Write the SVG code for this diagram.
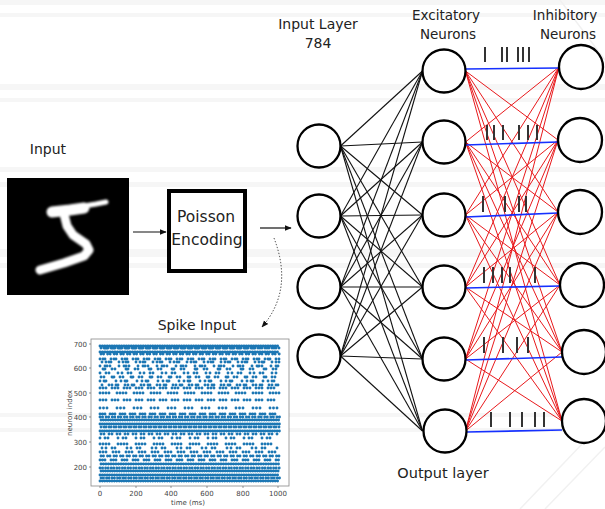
<svg xmlns="http://www.w3.org/2000/svg" width="605" height="509" viewBox="0 0 605 509">
<defs>
<style>
.t{font-family:"DejaVu Sans","Liberation Sans",sans-serif;fill:#222}
.n{fill:#fff;stroke:#000;stroke-width:2.3}
.bk{stroke:#111;stroke-width:1.1}
.rd{stroke:#e8191c;stroke-width:1}
.bl{stroke:#1530ff;stroke-width:1.6}
.sp{stroke:#333;stroke-width:2}
.bg{fill:#f6f6f6}
.r{stroke:#1f77b4;stroke-width:2.9;stroke-linecap:round;fill:none}
.ax{font-family:"DejaVu Sans","Liberation Sans",sans-serif;font-size:7px;fill:#444}
</style>
<marker id="ah" viewBox="0 0 10 10" refX="9" refY="5" markerWidth="7" markerHeight="7" orient="auto" markerUnits="userSpaceOnUse">
<path d="M0,1 L10,5 L0,9 z" fill="#111"/>
</marker>
<filter id="blur"><feGaussianBlur stdDeviation="1"/></filter>
<filter id="soft"><feGaussianBlur stdDeviation="0.4"/></filter>
</defs>
<rect width="605" height="509" fill="#fff"/>
<g id="background">
<rect class="bg" x="0" y="0" width="605" height="5"/>
<rect class="bg" x="0" y="13" width="605" height="4"/>
<rect class="bg" x="0" y="84" width="605" height="6"/>
<rect class="bg" x="0" y="98" width="605" height="4"/>
<rect class="bg" x="0" y="167" width="605" height="5"/>
<rect class="bg" x="0" y="182" width="605" height="5"/>
<rect class="bg" x="0" y="249" width="605" height="8"/>
<rect class="bg" x="0" y="263" width="605" height="5"/>
<rect class="bg" x="0" y="413" width="605" height="4"/>
<rect class="bg" x="0" y="428" width="605" height="4"/>
<line x1="520" y1="509" x2="605" y2="420" stroke="#f1f1f1" stroke-width="1.5"/>
<line x1="545" y1="509" x2="605" y2="447" stroke="#f1f1f1" stroke-width="1.5"/>
<line x1="560" y1="0" x2="605" y2="60" stroke="#f1f1f1" stroke-width="1.5"/>
</g>
<g id="labels">
<text class="t" x="318" y="29" font-size="14" text-anchor="middle">Input Layer</text>
<text class="t" x="318" y="48" font-size="14" text-anchor="middle">784</text>
<text class="t" x="446" y="20" font-size="13.5" text-anchor="middle">Excitatory</text>
<text class="t" x="448" y="39" font-size="13.5" text-anchor="middle">Neurons</text>
<text class="t" x="565" y="20" font-size="13.5" text-anchor="middle">Inhibitory</text>
<text class="t" x="568" y="39" font-size="13.5" text-anchor="middle">Neurons</text>
<text class="t" x="48" y="154" font-size="14" text-anchor="middle">Input</text>
<text class="t" x="197" y="330" font-size="14" text-anchor="middle">Spike Input</text>
<text class="t" x="443" y="478" font-size="14.5" text-anchor="middle">Output layer</text>
</g>
<g id="input-image">
<rect x="7" y="178" width="122" height="117" fill="#000"/>
<g fill="none" stroke="#fff" stroke-linecap="round" stroke-linejoin="round" filter="url(#blur)">
<path d="M52,212 L70,210 L84,208" stroke-width="11"/>
<path d="M84,206 L96,204 L106,202" stroke-width="5"/>
<path d="M64,214 L67,226 L73,235 L86,244 L89,250 L84,256 L64,263 L40,270" stroke-width="9"/>
</g>
</g>
<g id="poisson">
<rect x="169" y="191" width="76" height="80" fill="#fff" stroke="#000" stroke-width="4"/>
<text class="t" x="206" y="222" font-size="15.5" text-anchor="middle">Poisson</text>
<text class="t" x="207" y="245" font-size="15.5" text-anchor="middle">Encoding</text>
</g>
<g id="spike-plot">
<rect x="91" y="339" width="198" height="147" fill="#fff" stroke="#888" stroke-width="0.8"/>
<g class="r" filter="url(#soft)">
<line x1="100" y1="346" x2="280" y2="346" stroke-dasharray="0 2.4"/>
<line x1="101" y1="348" x2="280" y2="348" stroke-dasharray="0 3 0 2 0 2"/>
<line x1="100" y1="352" x2="280" y2="352" stroke-dasharray="0 2.5"/>
<line x1="101" y1="354" x2="280" y2="354" stroke-dasharray="0 2.6 0 4"/>
<line x1="100" y1="359" x2="280" y2="359" stroke-dasharray="0 3 0 2 0 6"/>
<line x1="102" y1="362" x2="280" y2="362" stroke-dasharray="0 4 0 3 0 2 0 8"/>
<line x1="100" y1="366" x2="280" y2="366" stroke-dasharray="0 5 0 2 0 3 0 9"/>
<line x1="103" y1="369" x2="280" y2="369" stroke-dasharray="0 2 0 7 0 3 0 11"/>
<line x1="100" y1="373" x2="280" y2="373" stroke-dasharray="0 6 0 3 0 9 0 4"/>
<line x1="101" y1="377" x2="280" y2="377" stroke-dasharray="0 3 0 8 0 2 0 6"/>
<line x1="100" y1="381" x2="280" y2="381" stroke-dasharray="0 4 0 2 0 10 0 5"/>
<line x1="102" y1="385" x2="280" y2="385" stroke-dasharray="0 7 0 3 0 4 0 2"/>
<line x1="100" y1="388" x2="280" y2="388" stroke-dasharray="0 3 0 3 0 6"/>
<line x1="100" y1="393" x2="280" y2="393" stroke-dasharray="0 3 0 3 0 3 0 8"/>
<line x1="100" y1="400" x2="280" y2="400" stroke-dasharray="0 3 0 3 0 6"/>
<line x1="100" y1="408" x2="280" y2="408" stroke-dasharray="0 3.5 0 3.5 0 10"/>
<line x1="100" y1="414" x2="280" y2="414" stroke-dasharray="0 2.5 0 2.5 0 5"/>
<line x1="100" y1="417" x2="280" y2="417" stroke-dasharray="0 2.6 0 3.5"/>
<line x1="101" y1="420" x2="280" y2="420" stroke-dasharray="0 2.4"/>
<line x1="100" y1="424" x2="280" y2="424" stroke-dasharray="0 2.3"/>
<line x1="101" y1="427" x2="280" y2="427" stroke-dasharray="0 3 0 2"/>
<line x1="100" y1="431" x2="280" y2="431" stroke-dasharray="0 2.3"/>
<line x1="101" y1="434" x2="280" y2="434" stroke-dasharray="0 3 0 5"/>
<line x1="100" y1="438" x2="280" y2="438" stroke-dasharray="0 5 0 3 0 10"/>
<line x1="100" y1="444" x2="280" y2="444" stroke-dasharray="0 3 0 3 0 3 0 9"/>
<line x1="102" y1="448" x2="280" y2="448" stroke-dasharray="0 4 0 6 0 3 0 12"/>
<line x1="100" y1="452" x2="280" y2="452" stroke-dasharray="0 3 0 3 0 7"/>
<line x1="101" y1="456" x2="280" y2="456" stroke-dasharray="0 2.5 0 4"/>
<line x1="100" y1="460" x2="280" y2="460" stroke-dasharray="0 2.5 0 2.5 0 6"/>
<line x1="101" y1="464" x2="280" y2="464" stroke-dasharray="0 2.5"/>
<line x1="100" y1="468" x2="280" y2="468" stroke-dasharray="0 2.6 0 3"/>
<line x1="101" y1="471" x2="280" y2="471" stroke-dasharray="0 2.3"/>
<line x1="100" y1="475" x2="280" y2="475" stroke-dasharray="0 2.4"/>
<line x1="101" y1="478" x2="280" y2="478" stroke-dasharray="0 2.5 0 3"/>
<line x1="100" y1="481" x2="280" y2="481" stroke-dasharray="0 2.4"/>
</g>
<g stroke="#555" stroke-width="0.6">
<line x1="89" y1="344" x2="91" y2="344"/><line x1="89" y1="368" x2="91" y2="368"/>
<line x1="89" y1="393" x2="91" y2="393"/><line x1="89" y1="417" x2="91" y2="417"/>
<line x1="89" y1="442" x2="91" y2="442"/><line x1="89" y1="467" x2="91" y2="467"/>
<line x1="100" y1="486" x2="100" y2="488"/><line x1="136" y1="486" x2="136" y2="488"/>
<line x1="171" y1="486" x2="171" y2="488"/><line x1="207" y1="486" x2="207" y2="488"/>
<line x1="243" y1="486" x2="243" y2="488"/><line x1="278" y1="486" x2="278" y2="488"/>
</g>
<g class="ax" text-anchor="end">
<text x="87" y="346.5">700</text><text x="87" y="370.5">600</text>
<text x="87" y="395.5">500</text><text x="87" y="419.5">400</text>
<text x="87" y="444.5">300</text><text x="87" y="469.5">200</text>
</g>
<g class="ax" text-anchor="middle">
<text x="100" y="496">0</text><text x="136" y="496">200</text>
<text x="171" y="496">400</text><text x="207" y="496">600</text>
<text x="243" y="496">800</text><text x="278" y="496">1000</text>
<text x="188" y="505">time (ms)</text>
<text x="72" y="413" transform="rotate(-90 72 413)">neuron index</text>
</g>
</g>
<g id="connectors">
<line x1="133" y1="232" x2="166" y2="232" stroke="#111" stroke-width="1.2" marker-end="url(#ah)"/>
<line x1="260" y1="228" x2="291" y2="228" stroke="#111" stroke-width="1.2" marker-end="url(#ah)"/>
<path d="M274,238 Q294,290 262,327" fill="none" stroke="#333" stroke-width="1" stroke-dasharray="1.3 1.8" marker-end="url(#ah)"/>
<g class="bk">
<line x1="340.5" y1="146" x2="422.5" y2="71"/><line x1="340.5" y1="146" x2="422.5" y2="142"/><line x1="340.5" y1="146" x2="422.5" y2="215"/><line x1="340.5" y1="146" x2="422.5" y2="287"/><line x1="340.5" y1="146" x2="422.5" y2="359"/><line x1="340.5" y1="146" x2="422.5" y2="431"/>
<line x1="340.5" y1="216" x2="422.5" y2="71"/><line x1="340.5" y1="216" x2="422.5" y2="142"/><line x1="340.5" y1="216" x2="422.5" y2="215"/><line x1="340.5" y1="216" x2="422.5" y2="287"/><line x1="340.5" y1="216" x2="422.5" y2="359"/><line x1="340.5" y1="216" x2="422.5" y2="431"/>
<line x1="340.5" y1="287" x2="422.5" y2="71"/><line x1="340.5" y1="287" x2="422.5" y2="142"/><line x1="340.5" y1="287" x2="422.5" y2="215"/><line x1="340.5" y1="287" x2="422.5" y2="287"/><line x1="340.5" y1="287" x2="422.5" y2="359"/><line x1="340.5" y1="287" x2="422.5" y2="431"/>
<line x1="340.5" y1="356" x2="422.5" y2="71"/><line x1="340.5" y1="356" x2="422.5" y2="142"/><line x1="340.5" y1="356" x2="422.5" y2="215"/><line x1="340.5" y1="356" x2="422.5" y2="287"/><line x1="340.5" y1="356" x2="422.5" y2="359"/><line x1="340.5" y1="356" x2="422.5" y2="431"/>
</g>
<g class="rd">
<line x1="465.5" y1="71" x2="558" y2="140"/><line x1="465.5" y1="71" x2="558" y2="212"/><line x1="465.5" y1="71" x2="560" y2="285"/><line x1="465.5" y1="71" x2="562" y2="352"/><line x1="465.5" y1="71" x2="562" y2="421"/>
<line x1="465.5" y1="142" x2="559" y2="67"/><line x1="465.5" y1="142" x2="558" y2="212"/><line x1="465.5" y1="142" x2="560" y2="285"/><line x1="465.5" y1="142" x2="562" y2="352"/><line x1="465.5" y1="142" x2="562" y2="421"/>
<line x1="465.5" y1="215" x2="559" y2="67"/><line x1="465.5" y1="215" x2="558" y2="140"/><line x1="465.5" y1="215" x2="560" y2="285"/><line x1="465.5" y1="215" x2="562" y2="352"/><line x1="465.5" y1="215" x2="562" y2="421"/>
<line x1="465.5" y1="287" x2="559" y2="67"/><line x1="465.5" y1="287" x2="558" y2="140"/><line x1="465.5" y1="287" x2="558" y2="212"/><line x1="465.5" y1="287" x2="562" y2="352"/><line x1="465.5" y1="287" x2="562" y2="421"/>
<line x1="465.5" y1="359" x2="559" y2="67"/><line x1="465.5" y1="359" x2="558" y2="140"/><line x1="465.5" y1="359" x2="558" y2="212"/><line x1="465.5" y1="359" x2="560" y2="285"/><line x1="465.5" y1="359" x2="562" y2="421"/>
<line x1="465.5" y1="431" x2="559" y2="67"/><line x1="465.5" y1="431" x2="558" y2="140"/><line x1="465.5" y1="431" x2="558" y2="212"/><line x1="465.5" y1="431" x2="560" y2="285"/><line x1="465.5" y1="431" x2="562" y2="352"/>
</g>
<g class="bl">
<line x1="465.5" y1="69" x2="559" y2="68"/>
<line x1="465.5" y1="145" x2="558" y2="142"/>
<line x1="465.5" y1="217" x2="558" y2="213"/>
<line x1="465.5" y1="288" x2="560" y2="286"/>
<line x1="465.5" y1="360" x2="562" y2="357"/>
<line x1="467" y1="432" x2="562" y2="430"/>
</g>
</g>
<g id="spikes" class="sp">
<line x1="485" y1="47" x2="485" y2="62"/><line x1="502" y1="47" x2="502" y2="62"/><line x1="507" y1="47" x2="507" y2="62"/><line x1="518" y1="47" x2="518" y2="62"/><line x1="523" y1="47" x2="523" y2="62"/><line x1="529" y1="47" x2="529" y2="62"/>
<line x1="487" y1="125" x2="487" y2="140"/><line x1="494" y1="125" x2="494" y2="140"/><line x1="503" y1="125" x2="503" y2="140"/><line x1="519" y1="125" x2="519" y2="140"/><line x1="528" y1="125" x2="528" y2="140"/><line x1="537" y1="125" x2="537" y2="140"/>
<line x1="483" y1="196" x2="483" y2="212"/><line x1="505" y1="196" x2="505" y2="212"/><line x1="519" y1="196" x2="519" y2="212"/><line x1="526" y1="196" x2="526" y2="212"/>
<line x1="484" y1="267" x2="484" y2="283"/><line x1="493" y1="267" x2="493" y2="283"/><line x1="502" y1="267" x2="502" y2="283"/><line x1="510" y1="267" x2="510" y2="283"/><line x1="535" y1="267" x2="535" y2="283"/>
<line x1="484" y1="337" x2="484" y2="353"/><line x1="503" y1="337" x2="503" y2="353"/><line x1="517" y1="337" x2="517" y2="353"/><line x1="528" y1="337" x2="528" y2="353"/>
<line x1="491" y1="412" x2="491" y2="427"/><line x1="510" y1="412" x2="510" y2="427"/><line x1="522" y1="412" x2="522" y2="427"/><line x1="535" y1="412" x2="535" y2="427"/><line x1="544" y1="412" x2="544" y2="427"/>
</g>
<g id="input-layer">
<circle id="in1" class="n" cx="319" cy="146" r="21.5"/>
<circle id="in2" class="n" cx="319" cy="216" r="21.5"/>
<circle id="in3" class="n" cx="319" cy="287" r="21.5"/>
<circle id="in4" class="n" cx="319" cy="356" r="21.5"/>
</g>
<g id="excitatory">
<circle id="ex1" class="n" cx="444" cy="71" r="21.5"/>
<circle id="ex2" class="n" cx="444" cy="142" r="21.5"/>
<circle id="ex3" class="n" cx="444" cy="215" r="21.5"/>
<circle id="ex4" class="n" cx="444" cy="287" r="21.5"/>
<circle id="ex5" class="n" cx="444" cy="359" r="21.5"/>
<circle id="ex6" class="n" cx="445" cy="431" r="21.5"/>
</g>
<g id="inhibitory">
<circle id="ih1" class="n" cx="581" cy="67" r="22"/>
<circle id="ih2" class="n" cx="580" cy="140" r="22"/>
<circle id="ih3" class="n" cx="580" cy="212" r="22"/>
<circle id="ih4" class="n" cx="582" cy="285" r="22"/>
<circle id="ih5" class="n" cx="584" cy="352" r="22"/>
<circle id="ih6" class="n" cx="584" cy="421" r="22"/>
</g>
</svg>
